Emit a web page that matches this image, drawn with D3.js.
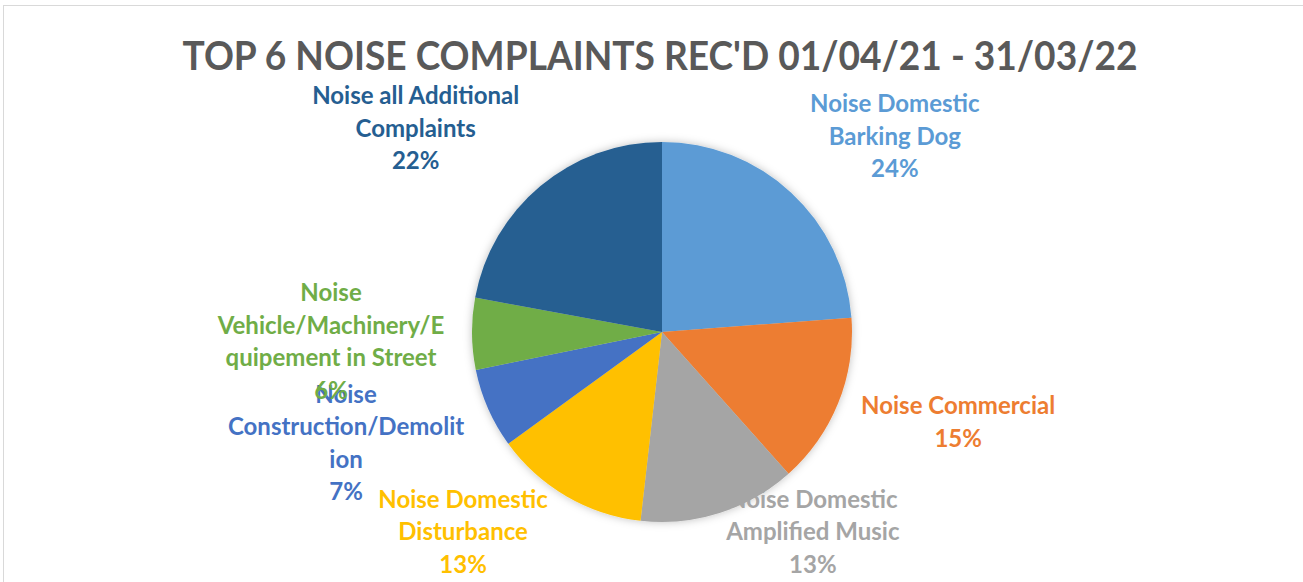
<!DOCTYPE html>
<html>
<head>
<meta charset="utf-8">
<script src="https://cdn.jsdelivr.net/npm/d3@7"></script>
<style>
  body { margin: 0; background: #fff; }
  svg { display: block; }
</style>
</head>
<body>
<svg id="chart" width="1303" height="582"></svg>
<script>
// chart values
const categories = [
    "Noise Domestic Barking Dog",
    "Noise Commercial",
    "Noise Domestic Amplified Music",
    "Noise Domestic Disturbance",
    "Noise Construction/Demolition",
    "Noise Vehicle/Machinery/Equipement in Street",
    "Noise all Additional Complaints"
];
const shares = [23.8, 14.6, 13.4, 13.2, 6.8, 6.1, 22.1];
// how excel wrapped the label text
const labelLines = [
    ["Noise Domestic", "Barking Dog"],
    ["Noise Commercial"],
    ["Noise Domestic", "Amplified Music"],
    ["Noise Domestic", "Disturbance"],
    ["Noise", "Construction/Demolit", "ion"],
    ["Noise", "Vehicle/Machinery/E", "quipement in Street"],
    ["Noise all Additional", "Complaints"]
];
const title = "TOP 6 NOISE COMPLAINTS REC'D 01/04/21 - 31/03/22";

const colors = ["#5B9BD5", "#ED7D31", "#A5A5A5", "#FFC000", "#4472C4", "#70AD47", "#255E91"];
// nudge of each label block from the centroid at labelRadius
const labelNudge = [[56, -5], [55, -7], [72, -48], [-68, -25], [-78, 6], [-71, 7], [-80, -4]];

const svg = d3.select("#chart");
const cx = 662, cy = 332, radius = 190, labelRadius = 260;
const lineH = 32.5;

// chart area border (top and left only visible)
svg.append("line").attr("x1", 3).attr("x2", 1303).attr("y1", 5.5).attr("y2", 5.5)
    .attr("stroke", "#d9d9d9").attr("stroke-width", 1);
svg.append("line").attr("x1", 3.5).attr("x2", 3.5).attr("y1", 5).attr("y2", 582)
    .attr("stroke", "#d9d9d9").attr("stroke-width", 1);

svg.append("text")
    .attr("x", 660)
    .attr("y", 70)
    .attr("text-anchor", "middle")
    .attr("font-family", "Lato, 'Open Sans', sans-serif")
    .attr("font-weight", "bold")
    .attr("font-size", 41)
    .attr("fill", "#595959")
    .attr("textLength", 955)
    .attr("lengthAdjust", "spacingAndGlyphs")
    .text(title);

const defs = svg.append("defs");
const shadow = defs.append("filter").attr("id", "pieShadow")
    .attr("x", "-20%").attr("y", "-20%").attr("width", "140%").attr("height", "140%");
shadow.append("feDropShadow")
    .attr("dx", 0).attr("dy", 0).attr("stdDeviation", 4)
    .attr("flood-color", "#000").attr("flood-opacity", 0.25);

const pie = d3.pie().sort(null).value(d => d);
const arcs = pie(shares);
const arc = d3.arc().innerRadius(0).outerRadius(radius);
const labelArc = d3.arc().innerRadius(labelRadius).outerRadius(labelRadius);
const total = d3.sum(shares);
const pct = d3.format(".0%");

const g = svg.append("g").attr("transform", `translate(${cx},${cy})`);

g.append("g")
    .attr("filter", "url(#pieShadow)")
    .selectAll("path")
    .data(arcs)
    .enter()
    .append("path")
    .attr("d", arc)
    .attr("fill", (d, i) => colors[i]);

const labels = g.selectAll("text.slice-label")
    .data(arcs)
    .enter()
    .append("text")
    .attr("class", "slice-label")
    .attr("text-anchor", "middle")
    .attr("font-family", "Lato, 'Open Sans', sans-serif")
    .attr("font-weight", "bold")
    .attr("font-size", 24)
    .attr("fill", (d, i) => colors[i])
    .attr("transform", (d, i) => {
        const c = labelArc.centroid(d);
        return `translate(${c[0] + labelNudge[i][0]},${c[1] + labelNudge[i][1]})`;
    });

labels.each(function(d, i) {
    const lines = labelLines[i].concat([pct(d.value / total)]);
    const top = -(lines.length - 1) * lineH / 2;
    d3.select(this).selectAll("tspan")
        .data(lines)
        .enter()
        .append("tspan")
        .attr("x", 0)
        .attr("y", (l, j) => top + j * lineH + 8.5)
        .text(l => l);
});
</script>
</body>
</html>
